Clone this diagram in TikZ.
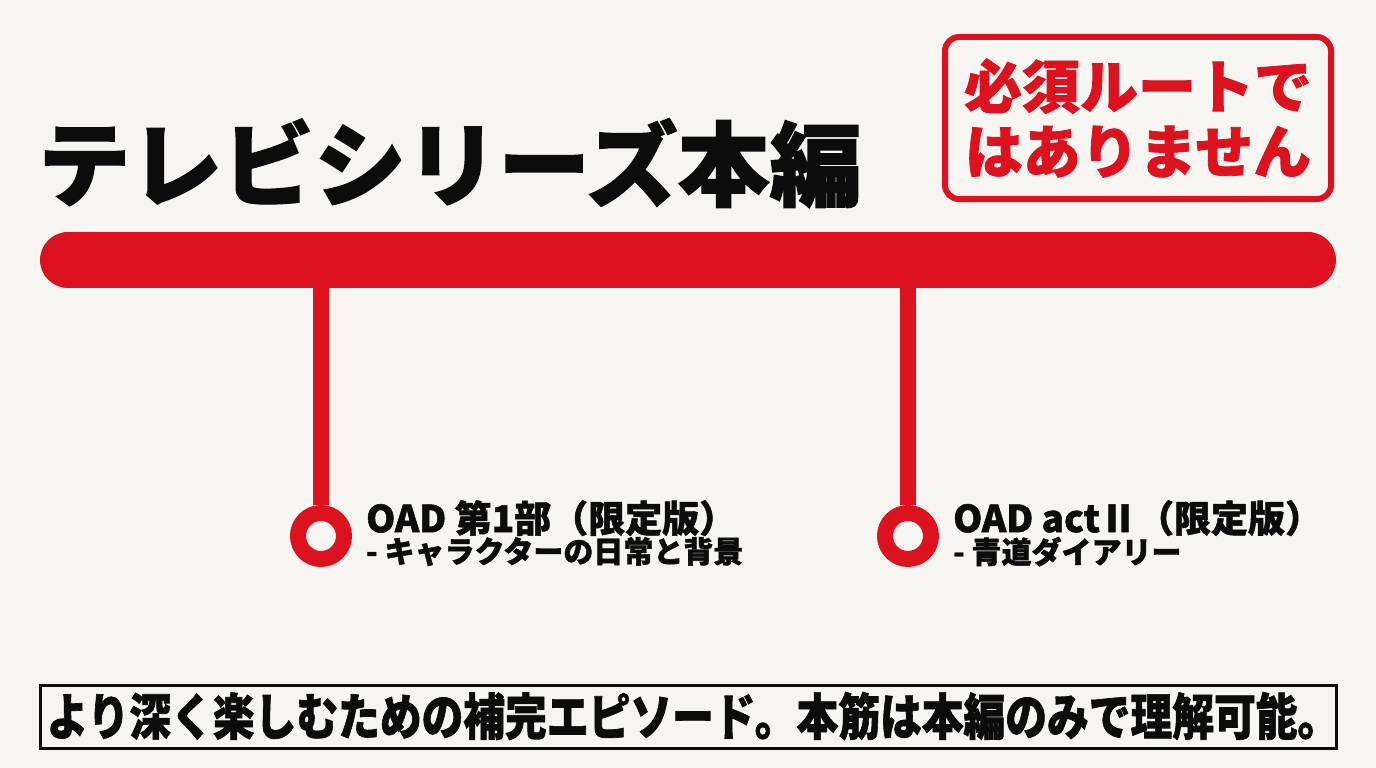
\documentclass[tikz,border=0pt]{standalone}
\usepackage{fontspec}
\setmainfont{Noto Sans CJK JP}[BoldFeatures={FakeBold=1.4}]
\usetikzlibrary{positioning,calc}
\definecolor{ink}{RGB}{12,12,12}
\definecolor{paper}{RGB}{246,245,241}
\definecolor{line}{RGB}{220,18,30}
\tikzset{
  every picture/.style={x=1pt, y=-1pt, color=ink},
  title/.style={font=\fontsize{92}{92}\selectfont\bfseries, inner sep=0pt, anchor=base west},
  stamp/.style={draw=line, line width=6pt, rounded corners=14pt, text=line, align=center,
    font=\fontsize{58}{65}\selectfont\bfseries, minimum width=386pt, minimum height=162pt},
  track/.style={line, line width=56pt, line cap=round},
  stem/.style={line, line width=16pt},
  halt/.style={circle, draw=line, line width=16pt, fill=paper, minimum size=46pt, inner sep=0pt},
  lbl/.style={align=left, inner sep=0pt, anchor=north west, font=\bfseries},
  foot/.style={draw=ink, line width=3pt, minimum width=1296pt, minimum height=63pt, inner sep=0pt},
}
\begin{document}
\begin{tikzpicture}
  \fill[paper] (0,0) rectangle (1376,768);
  \useasboundingbox (0,0) rectangle (1376,768);
  % heading and the red notice
  \node[title] (tv) at (38,199) {テレビシリーズ本編};
  \node[stamp] (notice) at (1138,118) {必須ルートで\\はありません};
  % main line with two side stops
  \coordinate (barL) at (68,260);
  \coordinate (barR) at (1308,260);
  \draw[track] (barL) -- (barR);
  \node[halt] (oad1) at (321,536) {};
  \node[halt] (oad2) at (908,536) {};
  \draw[stem] (oad1 |- barL) -- (oad1.north);
  \draw[stem] (oad2 |- barL) -- (oad2.north);
  \node[lbl] (oad1txt) at (366,500) {{\fontsize{37}{44}\selectfont OAD 第1部（限定版）}\\{\fontsize{30}{36}\selectfont - キャラクターの日常と背景}};
  \node[lbl] (oad2txt) at (953,500) {{\fontsize{37}{44}\selectfont OAD actⅡ（限定版）}\\{\fontsize{30}{36}\selectfont - 青道ダイアリー}};
  % footnote box
  \node[foot] (summary) at (688,717) {};
  \node[font=\fontsize{50}{50}\selectfont\bfseries, xscale=0.835, inner sep=0pt] (summarytxt) at ($(summary)+(5,-1)$) {より深く楽しむための補完エピソード。本筋は本編のみで理解可能。};
\end{tikzpicture}
\end{document}
